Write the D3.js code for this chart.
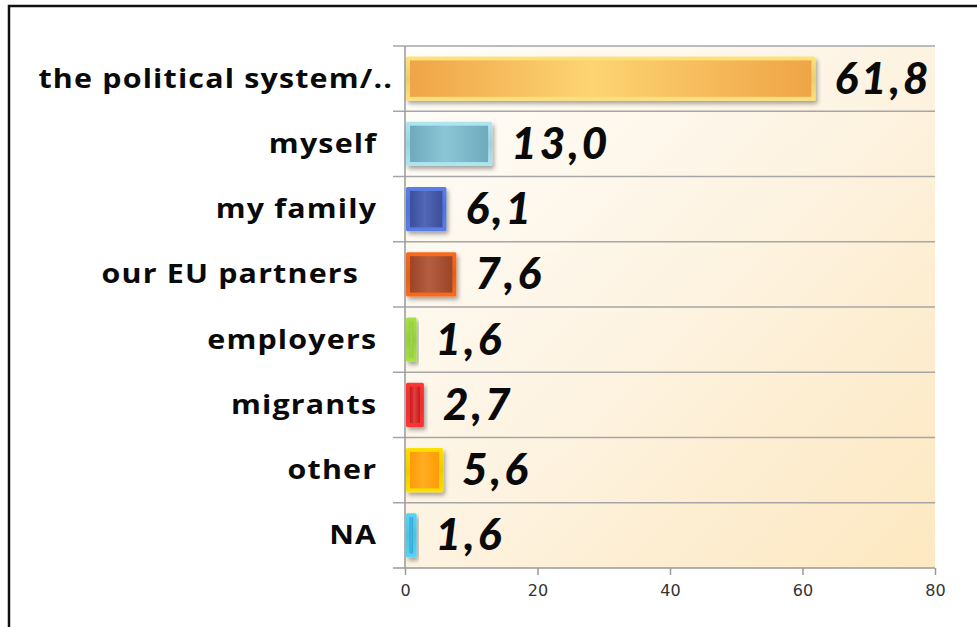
<!DOCTYPE html>
<html><head><meta charset="utf-8">
<script src="https://cdn.jsdelivr.net/npm/d3@7/dist/d3.min.js"></script>
<style>
html,body{margin:0;padding:0;background:#fff;}
svg{display:block;}
</style></head>
<body>
<svg id="chart" width="977" height="627"></svg>
<script>
const categories = ["the political system/..","myself","my family","our EU partners  ","employers","migrants","other","NA"];
const values = [61.8,13.0,6.1,7.6,1.6,2.7,5.6,1.6];
const valueLabels = ["61,8","13,0","6,1","7,6","1,6","2,7","5,6","1,6"];
const xTicks = [0,20,40,60,80];
// palette: [border, edge, centre]
const palette = [
  ["#ffe27c","#efa447","#fdd472"],
  ["#aee6f4","#6eaabd","#8ac6d6"],
  ["#5a7ee6","#3a4f9c","#5268b6"],
  ["#fa6a1a","#9c4428","#b45e40"],
  ["#a6e244","#8cc43a","#a8d858"],
  ["#ff3434","#c81818","#e04040"],
  ["#ffe000","#ff9a06","#ffae22"],
  ["#56d4f4","#2ea2d2","#48bce6"]
];

const svg = d3.select("#chart");
const margin = {left:405, right:42, top:46, bottom:59};
const W = 977, H = 627;
const x = d3.scaleLinear().domain([0,80]).range([margin.left, W - margin.right]);
const y = d3.scaleBand().domain(d3.range(categories.length)).range([margin.top, H - margin.bottom]).paddingInner(0.32).paddingOuter(0.16);
const yb = d3.scaleBand().domain(d3.range(categories.length)).range([margin.top, H - margin.bottom]);

const defs = svg.append("defs");
const bg = defs.append("linearGradient").attr("id","bg").attr("x1","0").attr("y1","0").attr("x2","1").attr("y2","1");
bg.append("stop").attr("offset","0").attr("stop-color","#fffefb");
bg.append("stop").attr("offset","0.45").attr("stop-color","#fdf4e4");
bg.append("stop").attr("offset","1").attr("stop-color","#fde8c0");

const sh = defs.append("filter").attr("id","shadow").attr("x","-10%").attr("y","-20%").attr("width","130%").attr("height","160%");
sh.append("feGaussianBlur").attr("in","SourceAlpha").attr("stdDeviation","2");
sh.append("feOffset").attr("dx","2").attr("dy","3").attr("result","ob");
sh.append("feComponentTransfer").append("feFuncA").attr("type","linear").attr("slope","0.35");
const mg = sh.append("feMerge"); mg.append("feMergeNode"); mg.append("feMergeNode").attr("in","SourceGraphic");

palette.forEach((p,i)=>{
  const g = defs.append("linearGradient").attr("id","bar"+i).attr("x1","0").attr("x2","1").attr("y1","0").attr("y2","0");
  g.append("stop").attr("offset","0").attr("stop-color",p[1]);
  g.append("stop").attr("offset","0.45").attr("stop-color",p[2]);
  g.append("stop").attr("offset","1").attr("stop-color",p[1]);
  const b = defs.append("linearGradient").attr("id","bord"+i).attr("x1","0").attr("x2","0").attr("y1","0").attr("y2","1");
  b.append("stop").attr("offset","0").attr("stop-color",p[0]);
  b.append("stop").attr("offset","0.5").attr("stop-color",d3.color(p[0]).darker(0.25));
  b.append("stop").attr("offset","1").attr("stop-color",p[0]);
});

// frame
svg.append("path").attr("d",`M9,${H+5} L9,6 L${W+5},6`).attr("fill","none").attr("stroke","#111").attr("stroke-width",2.5);

// plot background
svg.append("rect").attr("x",x(0)).attr("y",margin.top).attr("width",x(80)-x(0)).attr("height",H-margin.bottom-margin.top).attr("fill","url(#bg)");

// gridlines at band boundaries
const bounds = d3.range(categories.length).map(i => yb(i));
svg.append("g").selectAll("line").data(bounds).join("line")
  .attr("x1",x(0)-12).attr("x2",x(80)).attr("y1",d=>d).attr("y2",d=>d)
  .attr("stroke","#a6a6a6").attr("stroke-width",1.5);

// y axis line
svg.append("line").attr("x1",x(0)).attr("x2",x(0)).attr("y1",margin.top).attr("y2",H-margin.bottom).attr("stroke","#999").attr("stroke-width",1.5);

// x axis
const xa = svg.append("g").attr("transform",`translate(0,${H-margin.bottom})`)
  .call(d3.axisBottom(x).tickValues(xTicks).tickSize(7).tickPadding(10).tickSizeOuter(0));
xa.select(".domain").attr("stroke","#999").attr("stroke-width",1.5).attr("d",`M${x(0)-12},0H${x(80)}`);
xa.selectAll(".tick line").attr("stroke","#999").attr("stroke-width",1.5);
xa.selectAll(".tick text").attr("font-family","DejaVu Sans, Verdana, sans-serif").attr("font-size",16).attr("fill","#333");

// bars
const bars = svg.append("g").selectAll("g").data(values).join("g").attr("filter","url(#shadow)");
const inset = 4;
bars.append("rect").attr("x",x(0)+1).attr("y",(d,i)=>y(i)).attr("width",d=>x(d)-x(0)).attr("height",y.bandwidth())
  .attr("rx",1.5).attr("fill",(d,i)=>`url(#bord${i})`);
bars.append("rect").attr("x",d=>x(0)+1+Math.min(inset,(x(d)-x(0))/3)).attr("y",(d,i)=>y(i)+inset)
  .attr("width",d=>Math.max(1,x(d)-x(0)-2*Math.min(inset,(x(d)-x(0))/3))).attr("height",y.bandwidth()-2*inset)
  .attr("fill",(d,i)=>`url(#bar${i})`);

// value labels
svg.append("g").selectAll("text").data(values).join("text")
  .attr("x",d=>x(d)+20).attr("y",(d,i)=>yb(i)+yb.bandwidth()/2+15)
  .attr("font-family","Lato, 'Open Sans', sans-serif").attr("font-weight",900).attr("font-style","italic")
  .attr("font-size",44).attr("letter-spacing",3).attr("fill","#0a0a0a")
  .text((d,i)=>valueLabels[i]);

// category labels (slightly widened glyphs)
const ls = 1, sx = 1.17;
svg.append("g").selectAll("text").data(categories).join("text")
  .attr("transform",(d,i)=>`translate(${(i===0 ? 392 : 376) + ls*sx},${yb(i)+yb.bandwidth()/2+9}) scale(${sx},1)`)
  .attr("text-anchor","end").attr("xml:space","preserve").style("white-space","pre")
  .attr("font-family","'Open Sans', Lato, sans-serif").attr("font-weight",700)
  .attr("font-size",26).attr("letter-spacing",ls).attr("fill","#0a0a0a")
  .text(d=>d);
</script>
</body></html>
